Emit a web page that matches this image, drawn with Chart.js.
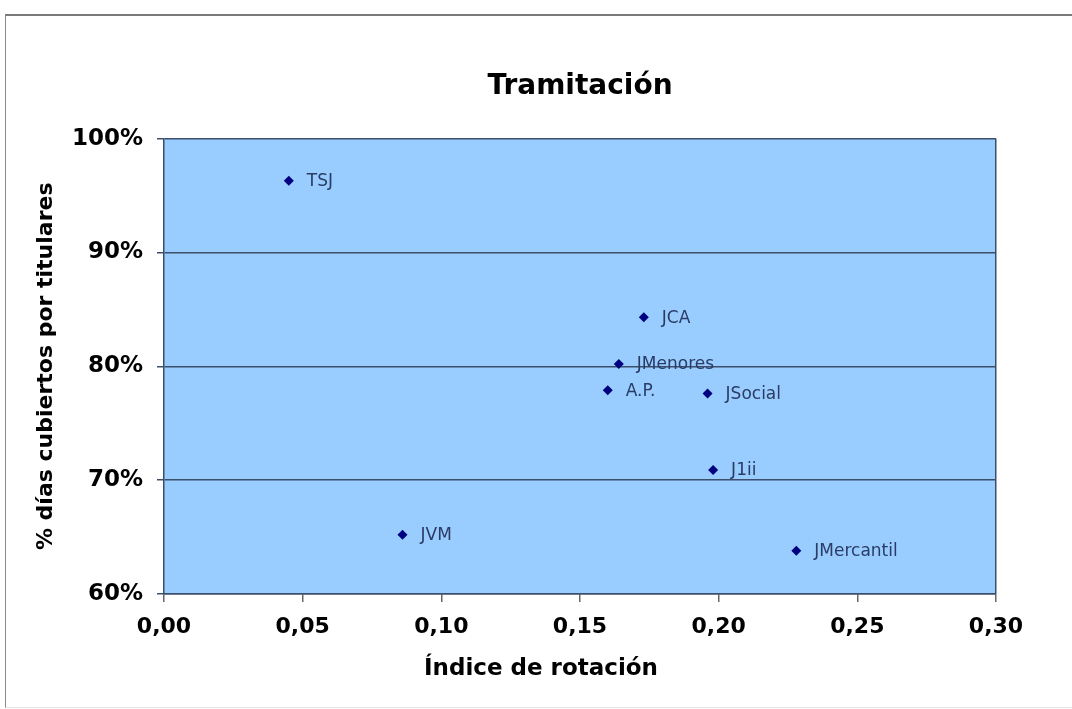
<!DOCTYPE html>
<html lang="es">
<head>
<meta charset="utf-8">
<title>Tramitación</title>
<script src="https://cdn.jsdelivr.net/npm/chart.js@4.4.1/dist/chart.umd.min.js"></script>
<style>
  body { margin: 0; background: #fff; overflow: hidden; }
  #marco {
    position: absolute; left: 5px; top: 14px; width: 1080px; height: 691px;
    border-top: 2px solid #7a7a7a; border-left: 1px solid #8a8a8a; border-bottom: 1px solid #e2e2e2;
  }
  #grafico { position: absolute; left: 0; top: 0; }
</style>
</head>
<body>
<div id="marco"></div>
<canvas id="grafico" width="1072" height="709"></canvas>
<script>
// Datos
const organos = ['TSJ', 'JCA', 'JMenores', 'A.P.', 'JSocial', 'J1ii', 'JMercantil', 'JVM'];
const indiceRotacion = [0.045, 0.173, 0.164, 0.160, 0.196, 0.198, 0.228, 0.086];
const diasCubiertos = [96.3, 84.3, 80.2, 77.9, 77.6, 70.9, 63.8, 65.2];
const ticksX = [0, 0.05, 0.10, 0.15, 0.20, 0.25, 0.30];
const ticksY = [60, 70, 80, 90, 100];

const lineColor = '#3b4f6b';
Chart.defaults.font.family = '"DejaVu Sans", Verdana, sans-serif';
Chart.defaults.color = '#000';

const puntos = indiceRotacion.map((x, i) => ({ x: x, y: diasCubiertos[i] }));

// fondo azul del área de trazado
const fondoPlot = {
  id: 'fondoPlot',
  beforeDraw(chart) {
    const a = chart.chartArea;
    const ctx = chart.ctx;
    ctx.save();
    ctx.fillStyle = '#99ccff';
    ctx.fillRect(a.left, a.top, a.right - a.left, a.bottom - a.top);
    ctx.restore();
  }
};

// nombre de cada órgano a la derecha del punto
const rotulos = {
  id: 'rotulos',
  afterDatasetsDraw(chart) {
    const ctx = chart.ctx;
    const meta = chart.getDatasetMeta(0);
    ctx.save();
    ctx.font = '17px "DejaVu Sans", Verdana, sans-serif';
    ctx.fillStyle = '#2a3c64';
    ctx.textAlign = 'left';
    ctx.textBaseline = 'middle';
    meta.data.forEach((p, i) => {
      ctx.fillText(organos[i], p.x + 18, p.y + 1);
    });
    ctx.restore();
  }
};

// título del eje X (algo desplazado a la izquierda, como en el original)
const tituloX = {
  id: 'tituloX',
  afterDraw(chart) {
    const ctx = chart.ctx;
    ctx.save();
    ctx.font = 'bold 23px "DejaVu Sans", Verdana, sans-serif';
    ctx.fillStyle = '#000';
    ctx.textAlign = 'center';
    ctx.textBaseline = 'middle';
    ctx.fillText('Índice de rotación', 541, 669);
    ctx.restore();
  }
};

const ctx = document.getElementById('grafico').getContext('2d');
const grafico = new Chart(ctx, {
  type: 'scatter',
  data: {
    datasets: [{
      label: 'Tramitación',
      data: puntos,
      pointStyle: 'rectRot',
      pointRadius: 5,
      backgroundColor: '#000080',
      borderColor: '#000080',
      borderWidth: 0
    }]
  },
  options: {
    responsive: false,
    animation: false,
    events: [],
    layout: { padding: { left: 30, right: 76, top: 0, bottom: 24 } },
    plugins: {
      legend: { display: false },
      tooltip: { enabled: false },
      title: {
        display: true,
        text: 'Tramitación',
        fullSize: false,
        color: '#000',
        font: { size: 28, weight: 'bold' },
        padding: { top: 70, bottom: 35 }
      }
    },
    scales: {
      x: {
        type: 'linear',
        min: ticksX[0],
        max: ticksX[ticksX.length - 1],
        afterFit(s) { s.height = 91; },
        ticks: {
          stepSize: 0.05,
          padding: 12,
          font: { size: 22, weight: 'bold' },
          callback: v => v.toFixed(2).replace('.', ',')
        },
        grid: {
          drawOnChartArea: true,
          color: c => (c.index === ticksX.length - 1 ? lineColor : 'rgba(0,0,0,0)'),
          lineWidth: 1.5,
          tickLength: 8,
          tickColor: '#666'
        },
        border: { color: lineColor, width: 1.5 }
      },
      y: {
        min: ticksY[0],
        max: ticksY[ticksY.length - 1],
        afterFit(s) { s.width = 134; },
        ticks: {
          stepSize: 10,
          padding: 14,
          font: { size: 23, weight: 'bold' },
          callback: v => v + '%'
        },
        grid: {
          color: lineColor,
          lineWidth: 1.5,
          tickLength: 7,
          tickColor: lineColor
        },
        border: { color: lineColor, width: 1.5 },
        title: {
          display: true,
          text: '% días cubiertos por titulares',
          color: '#000',
          font: { size: 22, weight: 'bold' },
          padding: { top: 3, bottom: 4 }
        }
      }
    }
  },
  plugins: [fondoPlot, rotulos, tituloX]
});
</script>
</body>
</html>
